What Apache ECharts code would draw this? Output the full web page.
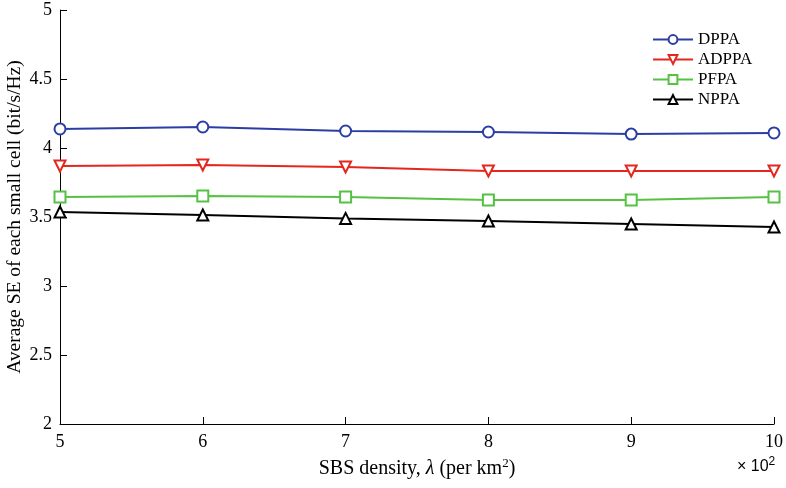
<!DOCTYPE html>
<html>
<head>
<meta charset="utf-8">
<script src="https://cdn.jsdelivr.net/npm/echarts@6/dist/echarts.min.js"></script>
<style>
  html, body { margin: 0; padding: 0; background: #fff; }
  #chart { width: 786px; height: 488px; }
</style>
</head>
<body>
<div id="chart"></div>
<script>
  // x values are in units of 10^2
  var xVals = [5, 6, 7, 8, 9, 10];
  var dppa = [4.138, 4.152, 4.123, 4.116, 4.101, 4.109];
  var adppa = [3.870, 3.877, 3.862, 3.833, 3.833, 3.833];
  var pfpa = [3.645, 3.652, 3.645, 3.623, 3.623, 3.645];
  var nppa = [3.536, 3.514, 3.490, 3.471, 3.449, 3.428];

  var font = 'Liberation Serif';

  function pairs(ys) {
    return xVals.map(function (x, i) { return [x, ys[i]]; });
  }

  function mk(name, ys, color, symbol, rot) {
    return {
      name: name,
      type: 'line',
      data: pairs(ys),
      symbol: symbol,
      symbolSize: 11,
      symbolRotate: rot || 0,
      lineStyle: { color: color, width: 2 },
      itemStyle: { color: '#fff', borderColor: color, borderWidth: 2 },
      emphasis: { disabled: true },
      animation: false
    };
  }

  var chart = echarts.init(document.getElementById('chart'));
  chart.setOption({
    animation: false,
    textStyle: { fontFamily: font },
    grid: { left: 60, right: 12, top: 10, bottom: 64, outerBoundsMode: 'none', containLabel: false },
    legend: {
      orient: 'vertical',
      left: 647,
      top: 26,
      itemWidth: 40,
      itemHeight: 11,
      itemGap: 3,
      textStyle: { fontFamily: font, fontSize: 17, lineHeight: 17, color: '#000' },
      data: ['DPPA', 'ADPPA', 'PFPA', 'NPPA']
    },
    xAxis: {
      type: 'value',
      min: 5,
      max: 10,
      interval: 1,
      name: '{n|SBS density, }{i|λ}{n| (per km}{s|2}{n|)}',
      nameLocation: 'middle',
      nameGap: 33,
      nameMoveOverlap: false,
      nameTextStyle: {
        rich: {
          n: { fontFamily: font, fontSize: 20, color: '#000' },
          i: { fontFamily: font, fontSize: 20, fontStyle: 'italic', color: '#000' },
          s: { fontFamily: font, fontSize: 13, color: '#000', verticalAlign: 'top', padding: [0, 0, 10, 0] }
        }
      },
      axisLine: { lineStyle: { color: '#000', width: 1 } },
      axisTick: { inside: true, length: 7, lineStyle: { color: '#000' } },
      axisLabel: { color: '#000', fontFamily: font, fontSize: 18, margin: 9 },
      splitLine: { show: false }
    },
    yAxis: {
      type: 'value',
      min: 2,
      max: 5,
      interval: 0.5,
      name: 'Average SE of each small cell (bit/s/Hz)',
      nameLocation: 'middle',
      nameGap: 35,
      nameMoveOverlap: false,
      nameTextStyle: { fontFamily: font, fontSize: 19.5, color: '#000' },
      axisLine: { show: true, lineStyle: { color: '#000', width: 1 } },
      axisTick: { show: true, inside: true, length: 7, lineStyle: { color: '#000' } },
      axisLabel: { color: '#000', fontFamily: font, fontSize: 18, margin: 8 },
      splitLine: { show: false }
    },
    graphic: [{
      type: 'text',
      left: 737,
      top: 456,
      style: {
        text: '{a|× 10}{b|2}',
        rich: {
          a: { fontFamily: 'Liberation Sans', fontSize: 16, color: '#000' },
          b: { fontFamily: 'Liberation Sans', fontSize: 12, color: '#000', verticalAlign: 'top', padding: [0, 0, 9, 0] }
        }
      }
    }],
    series: [
      mk('DPPA', dppa, '#2b3ea3', 'circle'),
      mk('ADPPA', adppa, '#e3271e', 'triangle', 180),
      mk('PFPA', pfpa, '#55c244', 'rect'),
      mk('NPPA', nppa, '#000000', 'triangle')
    ]
  });
</script>
</body>
</html>
